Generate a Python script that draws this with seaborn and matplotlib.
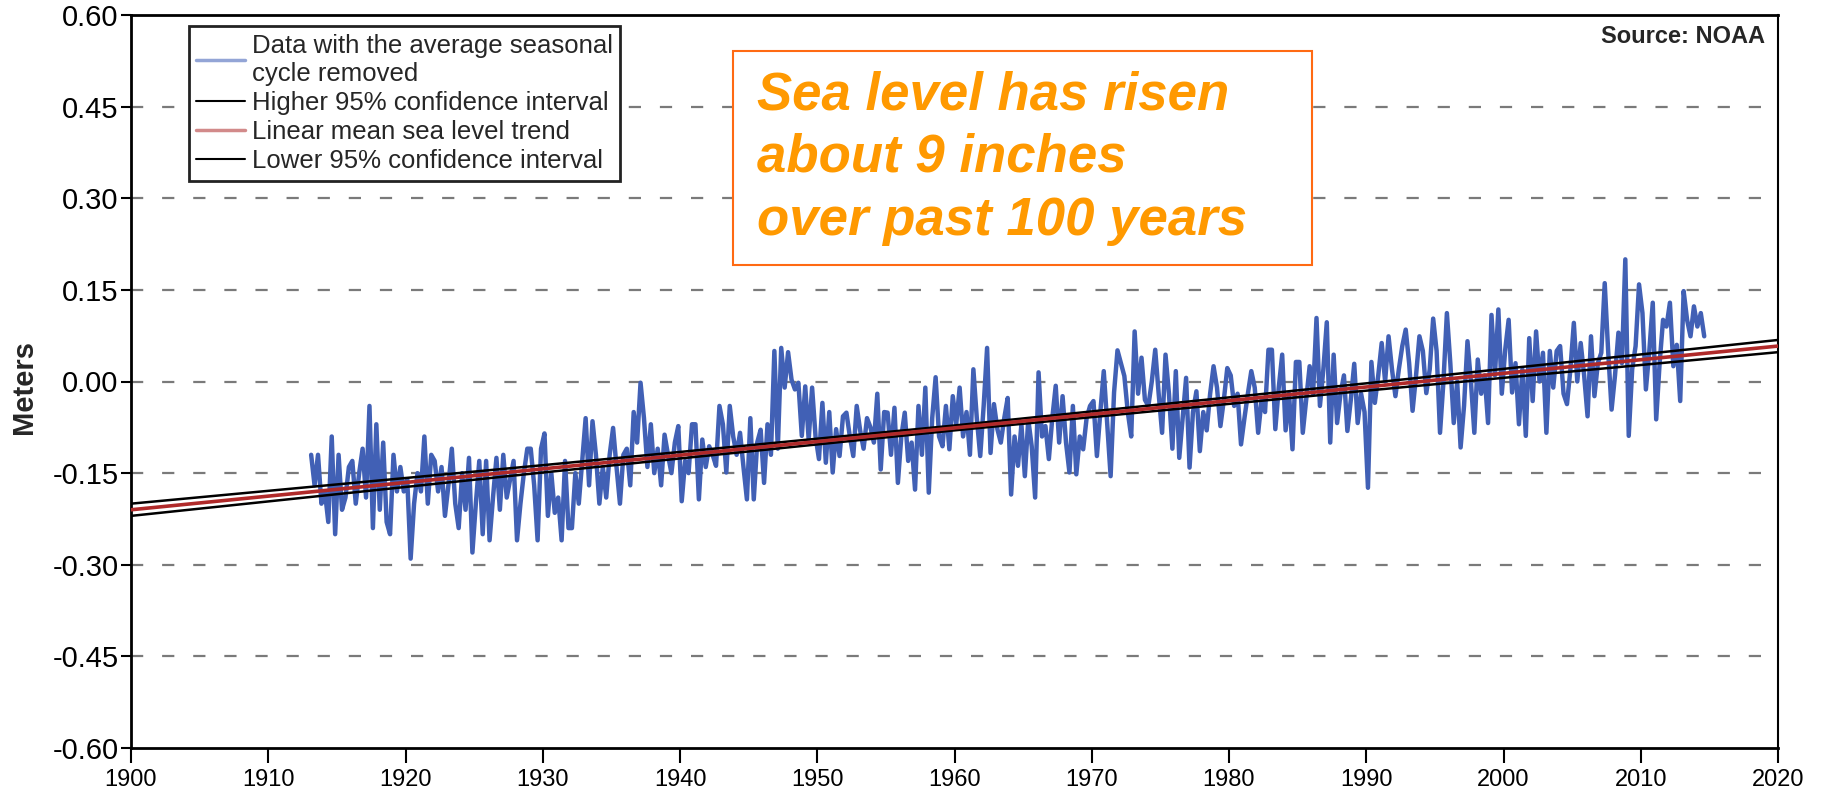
import numpy as np
import pandas as pd
import matplotlib
matplotlib.use("Agg")
import matplotlib.pyplot as plt
import matplotlib.patches as mpatches
from matplotlib.lines import Line2D
import seaborn as sns

# Quarterly mean sea level (m), seasonal cycle removed
sl_1913_1919 = [-0.12, -0.17, -0.12, -0.20,  -0.18, -0.23, -0.09, -0.25,
                -0.12, -0.21, -0.19, -0.14,  -0.13, -0.20, -0.15, -0.11,
                -0.19, -0.04, -0.24, -0.07,  -0.21, -0.10, -0.23, -0.25,
                -0.12, -0.18, -0.14, -0.18]
sl_1920s = [-0.16, -0.29, -0.20, -0.15,  -0.18, -0.09, -0.20, -0.12,
            -0.13, -0.18, -0.14, -0.22,  -0.17, -0.11, -0.20, -0.24,
            -0.15, -0.21, -0.125, -0.28,  -0.20, -0.13, -0.25, -0.13,
            -0.26, -0.19, -0.125, -0.21,  -0.12, -0.19, -0.16, -0.13,
            -0.26, -0.20, -0.15, -0.11,  -0.11, -0.17, -0.26, -0.11]
sl_1930s = [-0.085, -0.22, -0.15, -0.215,  -0.19, -0.26, -0.13, -0.24,
            -0.24, -0.15, -0.20, -0.13,  -0.06, -0.17, -0.065, -0.12,
            -0.20, -0.14, -0.19, -0.12,  -0.076, -0.14, -0.20, -0.12,
            -0.11, -0.17, -0.05, -0.10,  -0.002, -0.06, -0.14, -0.07,
            -0.15, -0.11, -0.17, -0.087,  -0.12, -0.15, -0.10, -0.073]
sl_1940s = [-0.196, -0.13, -0.15, -0.07,  -0.07, -0.193, -0.095, -0.14,
            -0.106, -0.12, -0.138, -0.04,  -0.07, -0.149, -0.04, -0.09,
            -0.12, -0.084, -0.14, -0.193,  -0.06, -0.193, -0.10, -0.079,
            -0.166, -0.07, -0.12, 0.05,  -0.11, 0.055, -0.01, 0.048,
            0.003, -0.013, -0.002, -0.089,  -0.008, -0.095, -0.01, -0.09]
sl_1950s = [-0.127, -0.035, -0.133, -0.05,  -0.149, -0.078, -0.122, -0.057,
            -0.051, -0.09, -0.122, -0.04,  -0.08, -0.11, -0.06, -0.075,
            -0.10, -0.02, -0.144, -0.05,  -0.051, -0.12, -0.043, -0.166,
            -0.09, -0.051, -0.13, -0.10,  -0.177, -0.04, -0.12, -0.01,
            -0.182, -0.06, 0.007, -0.09,  -0.106, -0.04, -0.111, -0.024]
sl_1960s = [-0.07, -0.01, -0.09, -0.05,  -0.12, 0.02, -0.06, -0.122,
            -0.04, 0.055, -0.117, -0.037,  -0.078, -0.10, -0.06, -0.027,
            -0.185, -0.09, -0.138, -0.07,  -0.155, -0.062, -0.106, -0.19,
            0.015, -0.09, -0.073, -0.127,  -0.06, -0.007, -0.10, -0.024,
            -0.10, -0.149, -0.04, -0.152,  -0.09, -0.111, -0.06, -0.04]
sl_1970s = [-0.032, -0.122, -0.05, 0.017,  -0.07, -0.155, -0.018, 0.051,
            0.03, 0.009, -0.05, -0.09,  0.082, -0.02, 0.039, -0.03,
            -0.04, 0.0, 0.052, -0.02,  -0.084, 0.044, -0.02, -0.11,
            0.017, -0.125, -0.06, 0.006,  -0.141, -0.05, -0.016, -0.114,
            -0.05, -0.08, -0.02, 0.025,  -0.01, -0.073, -0.03, 0.022]
sl_1980s = [0.01, -0.04, -0.02, -0.103,  -0.06, -0.02, 0.017, -0.01,
            -0.084, -0.03, -0.05, 0.052,  0.052, -0.078, -0.01, 0.044,
            -0.08, -0.02, -0.111, 0.032,  0.032, -0.084, -0.03, 0.025,
            -0.02, 0.104, -0.04, 0.02,  0.097, -0.10, 0.044, -0.068,
            -0.02, 0.01, -0.081, -0.03,  0.029, -0.068, -0.02, -0.05]
sl_1990s = [-0.174, 0.032, -0.035, 0.01,  0.063, 0.0, 0.074, 0.02,
            -0.024, 0.02, 0.058, 0.085,  0.03, -0.048, 0.009, 0.074,
            0.05, -0.019, 0.02, 0.103,  0.05, -0.084, 0.0, 0.112,
            0.03, -0.068, 0.0, -0.108,  -0.04, 0.066, 0.0, -0.084,
            0.036, -0.02, 0.01, -0.068,  0.109, 0.01, 0.118, -0.02]
sl_2000s = [0.052, 0.101, -0.018, 0.03,  -0.07, 0.02, -0.089, 0.071,
            -0.032, 0.082, 0.0, 0.047,  -0.084, 0.05, -0.01, 0.05,
            0.058, -0.02, -0.037, 0.02,  0.096, 0.0, 0.063, 0.01,
            -0.057, 0.074, -0.024, 0.03,  0.047, 0.161, 0.05, -0.046,
            0.01, 0.08, 0.03, 0.2,  -0.089, 0.02, 0.058, 0.159]
sl_2010s = [0.112, -0.013, 0.05, 0.129,  -0.062, 0.03, 0.101, 0.09,
            0.129, 0.025, 0.06, -0.032,  0.148, 0.101, 0.074, 0.123,
            0.09, 0.112, 0.074]

first_year = 1913

# Linear trend and its 95% confidence band
trend_years = [1900, 1930, 1960, 1990, 2020]
trend_mean = [-0.210, -0.143, -0.076, -0.009, 0.058]
ci_upper = [-0.200, -0.137, -0.072, -0.003, 0.068]
ci_lower = [-0.220, -0.149, -0.080, -0.015, 0.048]

y_ticks = [-0.60, -0.45, -0.30, -0.15, 0.00, 0.15, 0.30, 0.45, 0.60]
x_ticks = list(range(1900, 2021, 10))

legend_labels = ["Data with the average seasonal\ncycle removed",
                 "Higher 95% confidence interval",
                 "Linear mean sea level trend",
                 "Lower 95% confidence interval"]

# build tables
values = (sl_1913_1919 + sl_1920s + sl_1930s + sl_1940s + sl_1950s +
          sl_1960s + sl_1970s + sl_1980s + sl_1990s + sl_2000s + sl_2010s)
sea = pd.DataFrame({"year": first_year + 0.125 + 0.25 * np.arange(len(values)),
                    "level": values})
trend = pd.DataFrame({"year": trend_years, "mean": trend_mean,
                      "upper": ci_upper, "lower": ci_lower})

sns.set_style("white")
plt.rcParams['font.family'] = ['Liberation Sans', 'DejaVu Sans']

fig = plt.figure(figsize=(18.25, 7.95), dpi=100)
ax = fig.add_axes([131 / 1825, 1 - 748 / 795, (1778 - 131) / 1825, (748 - 15) / 795])

# dashed reference lines
for v in [-0.45, -0.30, -0.15, 0.0, 0.15, 0.30, 0.45]:
    ax.axhline(v, color="#7a7a7a", lw=1.6, dashes=(5.5, 8.5), zorder=1)

sns.lineplot(data=sea, x="year", y="level", color="#4160b5", lw=3.2,
             ax=ax, zorder=2)
sns.lineplot(data=trend, x="year", y="upper", color="black", lw=1.8, ax=ax, zorder=3)
sns.lineplot(data=trend, x="year", y="lower", color="black", lw=1.8, ax=ax, zorder=3)
sns.lineplot(data=trend, x="year", y="mean", color="#b02a2a", lw=2.6, ax=ax, zorder=4)

ax.set_xlim(1900, 2020)
ax.set_ylim(-0.60, 0.60)
ax.set_yticks(y_ticks)
ax.set_yticklabels([f"{t:.2f}" for t in y_ticks])
ax.set_xticks(x_ticks)
ax.set_xlabel("")
ax.set_ylabel("")
ax.tick_params(axis="y", direction="out", length=7, width=1.5, labelsize=21,
               pad=2, left=True, colors="black")
ax.tick_params(axis="x", direction="out", length=11, width=1.5, labelsize=17,
               pad=4, bottom=True, colors="black")
for s in ax.spines.values():
    s.set_color("black")
    s.set_linewidth(2)
ax.spines["right"].set_linewidth(1.5)

fig.text(24 / 1825, 1 - 387 / 795, "Meters", rotation=90, ha="center",
         va="center", fontsize=21, fontweight="bold")
ax.text(0.992, 0.987, "Source: NOAA", transform=ax.transAxes, ha="right",
        va="top", fontsize=17, fontweight="bold")

# legend
handles = [Line2D([], [], color="#93a5d6", lw=2.5),
           Line2D([], [], color="black", lw=1.5),
           Line2D([], [], color="#d28a8a", lw=2.5),
           Line2D([], [], color="black", lw=1.5)]
leg = ax.legend(handles, legend_labels, loc="upper left",
                bbox_to_anchor=(0.035, 0.985), borderaxespad=0, fontsize=18.5,
                handlelength=1.9, handletextpad=0.25, labelspacing=0.2,
                borderpad=0.3, fancybox=False, framealpha=1)
leg.get_frame().set_edgecolor("#222222")
leg.get_frame().set_linewidth(2)

# annotation box
fig.patches.append(mpatches.Rectangle((733 / 1825, 1 - 265 / 795),
                                      (1312 - 733) / 1825, (265 - 51) / 795,
                                      transform=fig.transFigure, facecolor="white",
                                      edgecolor="#ff6a13", lw=1.5, zorder=5))
fig.text(757 / 1825, 1 - 70 / 795,
         "Sea level has risen\nabout 9 inches\nover past 100 years",
         ha="left", va="top", fontsize=38, fontweight="bold", style="italic",
         color="#ff9900", linespacing=1.33, zorder=6)

fig.savefig("out.png", dpi=100)
